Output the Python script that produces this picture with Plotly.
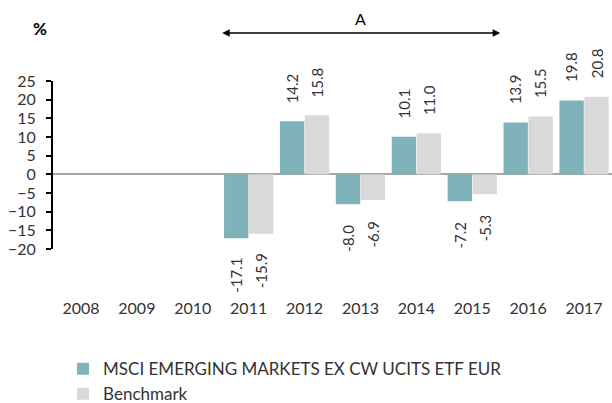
import plotly.graph_objects as go

years = ["2008", "2009", "2010", "2011", "2012", "2013", "2014", "2015", "2016", "2017"]
fund = [None, None, None, -17.1, 14.2, -8.0, 10.1, -7.2, 13.9, 19.8]
bench = [None, None, None, -15.9, 15.8, -6.9, 11.0, -5.3, 15.5, 20.8]
fund_name = "MSCI EMERGING MARKETS EX CW UCITS ETF EUR"
bench_name = "Benchmark"
y_ticks = [25, 20, 15, 10, 5, 0, -5, -10, -15, -20]

FONT = "Lato"
TXT = "#333333"

fig = go.Figure()
fig.add_bar(x=years, y=fund, name=fund_name, marker=dict(color="#80B3B9", line=dict(width=0)))
fig.add_bar(x=years, y=bench, name=bench_name, marker=dict(color="#D9D9D9", line=dict(width=0)))

annotations = []
for series, shift in ((fund, -12.5), (bench, 12.5)):
    for i, v in enumerate(series):
        if v is None:
            continue
        annotations.append(dict(
            x=i, y=v, xref="x", yref="y", text=f"{v:.1f}", showarrow=False,
            textangle=-90, xshift=shift, yshift=16 if v >= 0 else -18,
            yanchor="bottom" if v >= 0 else "top", xanchor="center",
            font=dict(family=FONT, size=15, color=TXT)))

# period arrow
annotations.append(dict(x=7.5, y=1.286, xref="x", yref="paper", ax=2.5, ay=0,
                        axref="x", ayref="pixel", text="", showarrow=True,
                        arrowhead=2, startarrowhead=2, arrowside="end+start",
                        arrowsize=1, arrowwidth=1.5, arrowcolor="black"))
annotations.append(dict(x=5, y=1.37, xref="x", yref="paper", text="A", showarrow=False,
                        xanchor="center", yanchor="middle",
                        font=dict(family=FONT, size=16, color="black")))
annotations.append(dict(x=-0.023, y=1.31, xref="paper", yref="paper", text="<b>%</b>",
                        xanchor="center", yanchor="middle",
                        showarrow=False, font=dict(family=FONT, size=17, color="black")))

fig.update_layout(
    width=612, height=403,
    margin=dict(l=53, r=0, t=81, b=154, autoexpand=False),
    paper_bgcolor="white", plot_bgcolor="white",
    barmode="group", bargap=0.11, bargroupgap=0.02,
    font=dict(family=FONT, size=16, color=TXT),
    showlegend=True,
    legend=dict(orientation="v", x=0.018, y=-0.608,
                xanchor="left", yanchor="top", font=dict(family=FONT, size=17, color=TXT),
                tracegroupgap=0, itemwidth=30),
    annotations=annotations,
    xaxis=dict(type="category", showline=False, showgrid=False, ticks="", tickangle=0,
               automargin=False,
               ticklabelstandoff=48, tickfont=dict(family=FONT, size=16, color=TXT)),
    yaxis=dict(range=[-20, 25], tickvals=y_ticks, showgrid=False, showline=True,
               automargin=False, ticklabelstandoff=7,
               linecolor="black", linewidth=2, ticks="outside", ticklen=5, tickwidth=2,
               tickcolor="black", zeroline=True, zerolinecolor="#A6A6A6", zerolinewidth=2,
               tickfont=dict(family=FONT, size=16, color=TXT)),
)

fig.write_html("out.html", config={"displayModeBar": False},
               post_script="document.body.style.margin='0';document.body.style.overflow='hidden';")
